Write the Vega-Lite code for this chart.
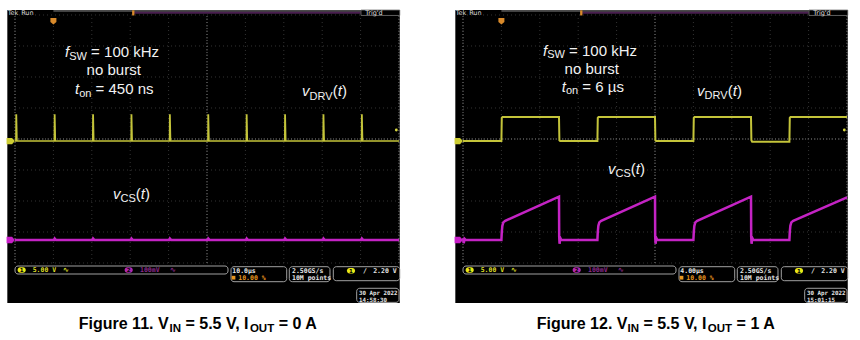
{
"$schema":"https://vega.github.io/schema/vega-lite/v6.json",
"padding":0,
"background":"#ffffff",
"spacing":0,
"bounds":"flush",
"config":{"view":{"stroke":null},"concat":{"spacing":0}},
"datasets":{
"screen":[{"x":-0.2,"x2":10.02,"y":8.161,"y2":-1.29}],
"gridV":[{"x":0,"y":0,"y2":8},{"x":1,"y":0,"y2":8},{"x":2,"y":0,"y2":8},{"x":3,"y":0,"y2":8},{"x":4,"y":0,"y2":8},{"x":5,"y":0,"y2":8},{"x":6,"y":0,"y2":8},{"x":7,"y":0,"y2":8},{"x":8,"y":0,"y2":8},{"x":9,"y":0,"y2":8},{"x":10,"y":0,"y2":8}],
"gridH":[{"y":0,"x":0,"x2":10},{"y":1,"x":0,"x2":10},{"y":2,"x":0,"x2":10},{"y":3,"x":0,"x2":10},{"y":4,"x":0,"x2":10},{"y":5,"x":0,"x2":10},{"y":6,"x":0,"x2":10},{"y":7,"x":0,"x2":10},{"y":8,"x":0,"x2":10}],
"gridC":[{"x":0,"y":0,"y2":8},{"x":5,"y":0,"y2":8},{"x":10,"y":0,"y2":8}],
"gridCH":[{"y":4,"x":0,"x2":10}],
"rec":[{"x":1.0,"x2":9.0,"y":8.13}],
"recP":[{"x":3.1,"x2":9.0,"y":8.07}],
"trigBox":[{"x":9.01,"x2":10.02,"y":8.161,"y2":7.985}],
"recMark":[{"x":3.05,"x2":3.11,"y":8.15,"y2":7.985}],
"hdr":[{"x":-0.19,"y":8.07,"t":"Tek"},{"x":0.16,"y":8.07,"t":"Run"},{"x":9.12,"y":8.07,"t":"Trig'd"}],
"trigT":[{"x":1.0,"y":7.81}],
"gnd":[{"x":-0.11,"y":3.935,"k":"ch1"},{"x":-0.11,"y":0.742,"k":"ch2"}],
"tlev":[{"x":9.93,"y":4.29}],
"p1y":[{"x":0,"y":3.935},
{"x":0.025,"y":3.935},{"x":0.03,"y":4.774},{"x":0.036,"y":4.774},{"x":0.05,"y":3.935},
{"x":1.025,"y":3.935},{"x":1.03,"y":4.774},{"x":1.036,"y":4.774},{"x":1.05,"y":3.935},
{"x":2.025,"y":3.935},{"x":2.03,"y":4.774},{"x":2.036,"y":4.774},{"x":2.05,"y":3.935},
{"x":3.025,"y":3.935},{"x":3.03,"y":4.774},{"x":3.036,"y":4.774},{"x":3.05,"y":3.935},
{"x":4.025,"y":3.935},{"x":4.03,"y":4.774},{"x":4.036,"y":4.774},{"x":4.05,"y":3.935},
{"x":5.025,"y":3.935},{"x":5.03,"y":4.774},{"x":5.036,"y":4.774},{"x":5.05,"y":3.935},
{"x":6.025,"y":3.935},{"x":6.03,"y":4.774},{"x":6.036,"y":4.774},{"x":6.05,"y":3.935},
{"x":7.025,"y":3.935},{"x":7.03,"y":4.774},{"x":7.036,"y":4.774},{"x":7.05,"y":3.935},
{"x":8.025,"y":3.935},{"x":8.03,"y":4.774},{"x":8.036,"y":4.774},{"x":8.05,"y":3.935},
{"x":9.025,"y":3.935},{"x":9.03,"y":4.774},{"x":9.036,"y":4.774},{"x":9.05,"y":3.935},
{"x":10,"y":3.935}],
"p1m":[{"x":0,"y":0.742},
{"x":1.02,"y":0.742},{"x":1.035,"y":0.79},{"x":1.07,"y":0.742},
{"x":2.02,"y":0.742},{"x":2.035,"y":0.79},{"x":2.07,"y":0.742},
{"x":3.02,"y":0.742},{"x":3.035,"y":0.79},{"x":3.07,"y":0.742},
{"x":4.02,"y":0.742},{"x":4.035,"y":0.79},{"x":4.07,"y":0.742},
{"x":5.02,"y":0.742},{"x":5.035,"y":0.79},{"x":5.07,"y":0.742},
{"x":6.02,"y":0.742},{"x":6.035,"y":0.79},{"x":6.07,"y":0.742},
{"x":7.02,"y":0.742},{"x":7.035,"y":0.79},{"x":7.07,"y":0.742},
{"x":8.02,"y":0.742},{"x":8.035,"y":0.79},{"x":8.07,"y":0.742},
{"x":9.02,"y":0.742},{"x":9.035,"y":0.79},{"x":9.07,"y":0.742},
{"x":10,"y":0.742}],
"p2y":[{"x":0,"y":3.935},{"x":1.0,"y":3.935},{"x":1.01,"y":4.68},{"x":1.03,"y":4.71},{"x":2.5,"y":4.71},{"x":2.51,"y":3.96},{"x":2.53,"y":3.935},
{"x":3.5,"y":3.935},{"x":3.51,"y":4.68},{"x":3.53,"y":4.71},{"x":5.0,"y":4.71},{"x":5.01,"y":3.96},{"x":5.03,"y":3.935},
{"x":6.0,"y":3.935},{"x":6.01,"y":4.68},{"x":6.03,"y":4.71},{"x":7.5,"y":4.71},{"x":7.51,"y":3.96},{"x":7.53,"y":3.91},
{"x":8.5,"y":3.91},{"x":8.51,"y":4.68},{"x":8.53,"y":4.71},{"x":10,"y":4.71}],
"p2m":[{"x":0,"y":0.8},{"x":0.02,"y":0.64},{"x":0.04,"y":0.78},{"x":0.07,"y":0.742},
{"x":1.0,"y":0.742},{"x":1.01,"y":1.0},{"x":1.025,"y":1.2},{"x":1.05,"y":1.31},{"x":1.1,"y":1.36},{"x":2.5,"y":2.14},
{"x":2.505,"y":0.85},{"x":2.515,"y":0.62},{"x":2.53,"y":0.82},{"x":2.56,"y":0.742},
{"x":3.5,"y":0.742},{"x":3.51,"y":1.0},{"x":3.525,"y":1.2},{"x":3.55,"y":1.31},{"x":3.6,"y":1.36},{"x":5.0,"y":2.14},
{"x":5.005,"y":0.85},{"x":5.015,"y":0.62},{"x":5.03,"y":0.82},{"x":5.06,"y":0.742},
{"x":6.0,"y":0.742},{"x":6.01,"y":1.0},{"x":6.025,"y":1.2},{"x":6.05,"y":1.31},{"x":6.1,"y":1.36},{"x":7.5,"y":2.14},
{"x":7.505,"y":0.85},{"x":7.515,"y":0.62},{"x":7.53,"y":0.82},{"x":7.56,"y":0.742},
{"x":8.5,"y":0.742},{"x":8.51,"y":1.0},{"x":8.525,"y":1.2},{"x":8.55,"y":1.31},{"x":8.6,"y":1.36},{"x":10.0,"y":2.12}],
"p1it":[{"x":1.302,"y":6.635,"t":"f"},{"x":1.5625,"y":5.452,"t":"t"},{"x":7.474,"y":5.371,"t":"v"},{"x":8.404,"y":5.371,"t":"t"},{"x":2.552,"y":2.065,"t":"v"},{"x":3.273,"y":2.065,"t":"t"}],
"p1tx":[{"x":1.982,"y":6.635,"t":"= 100 kHz"},{"x":2.099,"y":5.452,"t":"= 450 ns"},{"x":8.273,"y":5.371,"t":"("},{"x":8.513,"y":5.371,"t":")"},{"x":3.143,"y":2.065,"t":"("},{"x":3.383,"y":2.065,"t":")"}],
"p1ce":[{"x":2.57,"y":6.065,"t":"no burst"}],
"p1sb":[{"x":1.411,"y":6.555,"t":"SW"},{"x":1.672,"y":5.37,"t":"on"},{"x":7.669,"y":5.274,"t":"DRV"},{"x":2.747,"y":1.968,"t":"CS"}],
"p2it":[{"x":2.083,"y":6.677,"t":"f"},{"x":2.57,"y":5.527,"t":"t"},{"x":6.094,"y":5.403,"t":"v"},{"x":7.023,"y":5.403,"t":"t"},{"x":3.776,"y":2.871,"t":"v"},{"x":4.497,"y":2.871,"t":"t"}],
"p2tx":[{"x":2.763,"y":6.677,"t":"= 100 kHz"},{"x":3.107,"y":5.527,"t":"= 6 µs"},{"x":6.893,"y":5.403,"t":"("},{"x":7.133,"y":5.403,"t":")"},{"x":4.367,"y":2.871,"t":"("},{"x":4.607,"y":2.871,"t":")"}],
"p2ce":[{"x":3.352,"y":6.097,"t":"no burst"}],
"p2sb":[{"x":2.193,"y":6.597,"t":"SW"},{"x":2.68,"y":5.45,"t":"on"},{"x":6.289,"y":5.306,"t":"DRV"},{"x":3.971,"y":2.774,"t":"CS"}],
"boxes":[{"x":0,"x2":5.547,"y":-0.097,"y2":-0.355},{"x":5.625,"x2":7.076,"y":-0.119,"y2":-0.603},{"x":7.143,"x2":8.203,"y":-0.119,"y2":-0.603},{"x":8.289,"x2":10.02,"y":-0.119,"y2":-0.571},{"x":8.898,"x2":10.0,"y":-0.816,"y2":-1.27}],
"ell":[{"x":0.174,"y":-0.226,"k":"ch1","t":"1"},{"x":2.961,"y":-0.226,"k":"ch2","t":"2"},{"x":8.75,"y":-0.248,"k":"ch1","t":"1"}],
"stat":[{"x":0.461,"y":-0.226,"t":"5.00 V","k":"ch1"},{"x":1.25,"y":-0.226,"t":"∿","k":"ch1"},{"x":3.255,"y":-0.226,"t":"100mV","k":"ch2"},{"x":4.036,"y":-0.226,"t":"∿","k":"ch2"},{"x":5.815,"y":-0.474,"t":"10.00 %","k":"trig"},{"x":7.214,"y":-0.248,"t":"2.50GS/s","k":"sys"},{"x":7.214,"y":-0.474,"t":"10M points","k":"sys"},{"x":9.063,"y":-0.248,"t":"/","k":"sys"}],
"date":[{"x":8.958,"y":-0.958,"t":"30 Apr 2022"}],
"p1stat":[{"x":5.659,"y":-0.248,"t":"10.0µs"}],
"p2stat":[{"x":5.659,"y":-0.248,"t":"4.00µs"}],
"p1time":[{"x":8.958,"y":-1.194,"t":"14:58:30"}],
"p2time":[{"x":8.958,"y":-1.194,"t":"15:01:15"}],
"trigv":[{"x":9.94,"y":-0.248,"t":"2.20 V"}],
"oic":[{"x":5.69,"y":-0.474}],
"p1cm":[{"x":1.661,"y":-2.139,"t":"Figure 11. V"},{"x":4.439,"y":-2.139,"t":"= 5.5 V, I"},{"x":6.866,"y":-2.139,"t":"= 0 A"}],
"p1cs":[{"x":4.023,"y":-2.235,"t":"IN"},{"x":6.117,"y":-2.235,"t":"OUT"}],
"p2cm":[{"x":1.921,"y":-2.139,"t":"Figure 12. V"},{"x":4.698,"y":-2.139,"t":"= 5.5 V, I"},{"x":7.125,"y":-2.139,"t":"= 1 A"}],
"p2cs":[{"x":4.283,"y":-2.235,"t":"IN"},{"x":6.376,"y":-2.235,"t":"OUT"}]
},
"hconcat":[
{"width":430,"height":340,
"resolve":{"scale":{"color":"independent"}},
"encoding":{"x":{"field":"x","type":"quantitative","scale":{"domain":[-0.390625,10.807292],"nice":false,"zero":false},"axis":null},
"y":{"field":"y","type":"quantitative","scale":{"domain":[-2.48387,8.48387],"nice":false,"zero":false},"axis":null}},
"layer":[
{"data":{"name":"screen"},"mark":{"type":"rect","fill":"#000000"},"encoding":{"x2":{"field":"x2"},"y2":{"field":"y2"}}},
{"data":{"name":"gridV"},"mark":{"type":"rule","stroke":"#333333","strokeWidth":1,"strokeDash":[1,3]},"encoding":{"y2":{"field":"y2"}}},
{"data":{"name":"gridH"},"mark":{"type":"rule","stroke":"#333333","strokeWidth":1,"strokeDash":[1,3]},"encoding":{"x2":{"field":"x2"}}},
{"data":{"name":"gridC"},"mark":{"type":"rule","stroke":"#777777","strokeWidth":1,"strokeDash":[1,2]},"encoding":{"y2":{"field":"y2"}}},
{"data":{"name":"gridCH"},"mark":{"type":"rule","stroke":"#777777","strokeWidth":1,"strokeDash":[1,2]},"encoding":{"x2":{"field":"x2"}}},
{"data":{"name":"rec"},"mark":{"type":"rule","stroke":"#8c8c8c","strokeWidth":1},"encoding":{"x2":{"field":"x2"}}},
{"data":{"name":"recP"},"mark":{"type":"rule","stroke":"#4a2050","strokeWidth":2},"encoding":{"x2":{"field":"x2"}}},
{"data":{"name":"trigBox"},"mark":{"type":"rect","fill":"#000000","stroke":"#777777","strokeWidth":0.8},"encoding":{"x2":{"field":"x2"},"y2":{"field":"y2"}}},
{"data":{"name":"recMark"},"mark":{"type":"rect","fill":"#d98a2b"},"encoding":{"x2":{"field":"x2"},"y2":{"field":"y2"}}},
{"data":{"name":"hdr"},"mark":{"type":"text","align":"left","baseline":"middle","font":"DejaVu Sans","fontSize":6.5,"fill":"#dddddd"},"encoding":{"text":{"field":"t"}}},
{"data":{"name":"trigT"},"mark":{"type":"point","shape":"M-1,-1H1V0.4L0,1.2L-1,0.4Z","filled":true,"color":"#d98a2b","size":36,"opacity":1},"encoding":{}},
{"data":{"name":"gnd"},"mark":{"type":"point","shape":"M-1,-0.75H0.3L1,0L0.3,0.75H-1Z","filled":true,"size":70,"opacity":1},"encoding":{"color":{"field":"k","type":"nominal","scale":{"domain":["ch1","ch2"],"range":["#cccc33","#c81ec8"]},"legend":null}}},
{"data":{"name":"p1y"},"mark":{"type":"line","color":"#c4c43a","strokeWidth":1.6},"encoding":{}},
{"data":{"name":"p1m"},"mark":{"type":"line","color":"#c423c4","strokeWidth":2.5},"encoding":{}},
{"data":{"name":"tlev"},"mark":{"type":"point","filled":true,"color":"#d8d840","size":8,"opacity":1},"encoding":{}},
{"data":{"name":"p1it"},"mark":{"type":"text","align":"left","baseline":"alphabetic","font":"Liberation Sans","fontSize":15,"fontStyle":"italic","fill":"#f2f2f2"},"encoding":{"text":{"field":"t"}}},
{"data":{"name":"p1tx"},"mark":{"type":"text","align":"left","baseline":"alphabetic","font":"Liberation Sans","fontSize":15,"fill":"#f2f2f2"},"encoding":{"text":{"field":"t"}}},
{"data":{"name":"p1ce"},"mark":{"type":"text","align":"center","baseline":"alphabetic","font":"Liberation Sans","fontSize":15,"fill":"#f2f2f2"},"encoding":{"text":{"field":"t"}}},
{"data":{"name":"p1sb"},"mark":{"type":"text","align":"left","baseline":"alphabetic","font":"Liberation Sans","fontSize":11,"fill":"#f2f2f2"},"encoding":{"text":{"field":"t"}}},
{"data":{"name":"boxes"},"mark":{"type":"rect","fill":"#000000","stroke":"#a0a0a0","strokeWidth":1,"cornerRadius":3},"encoding":{"x2":{"field":"x2"},"y2":{"field":"y2"}}},
{"data":{"name":"ell"},"mark":{"type":"point","shape":"M-0.5,-1H0.5A1,1,0,0,1,0.5,1H-0.5A1,1,0,0,1,-0.5,-1Z","filled":true,"size":30,"opacity":1},"encoding":{"color":{"field":"k","type":"nominal","scale":{"domain":["ch1","ch2"],"range":["#e8e818","#b028b0"]},"legend":null}}},
{"data":{"name":"ell"},"mark":{"type":"text","align":"center","baseline":"middle","font":"DejaVu Sans","fontWeight":"bold","fontSize":5.5,"fill":"#000000"},"encoding":{"text":{"field":"t"}}},
{"data":{"name":"stat"},"mark":{"type":"text","align":"left","baseline":"middle","font":"DejaVu Sans Mono","fontWeight":"bold","fontSize":6.5},"encoding":{"text":{"field":"t"},"color":{"field":"k","type":"nominal","scale":{"domain":["ch1","ch2","trig","sys"],"range":["#dede28","#8a2a8a","#e8961e","#e6e6e6"]},"legend":null}}},
{"data":{"name":"p1stat"},"mark":{"type":"text","align":"left","baseline":"middle","font":"DejaVu Sans Mono","fontWeight":"bold","fontSize":6.5,"fill":"#e6e6e6"},"encoding":{"text":{"field":"t"}}},
{"data":{"name":"date"},"mark":{"type":"text","align":"left","baseline":"middle","font":"DejaVu Sans Mono","fontWeight":"bold","fontSize":5.8,"fill":"#e6e6e6"},"encoding":{"text":{"field":"t"}}},
{"data":{"name":"p1time"},"mark":{"type":"text","align":"left","baseline":"middle","font":"DejaVu Sans Mono","fontWeight":"bold","fontSize":5.8,"fill":"#e6e6e6"},"encoding":{"text":{"field":"t"}}},
{"data":{"name":"trigv"},"mark":{"type":"text","align":"right","baseline":"middle","font":"DejaVu Sans Mono","fontWeight":"bold","fontSize":6.5,"fill":"#e6e6e6"},"encoding":{"text":{"field":"t"}}},
{"data":{"name":"oic"},"mark":{"type":"square","color":"#e8961e","size":14,"opacity":1},"encoding":{}},
{"data":{"name":"p1cm"},"mark":{"type":"text","align":"left","baseline":"alphabetic","font":"Liberation Sans","fontWeight":"bold","fontSize":16,"fill":"#000000"},"encoding":{"text":{"field":"t"}}},
{"data":{"name":"p1cs"},"mark":{"type":"text","align":"left","baseline":"alphabetic","font":"Liberation Sans","fontWeight":"bold","fontSize":11.5,"fill":"#000000"},"encoding":{"text":{"field":"t"}}}
]},
{"width":430,"height":340,
"resolve":{"scale":{"color":"independent"}},
"encoding":{"x":{"field":"x","type":"quantitative","scale":{"domain":[-0.859375,10.338542],"nice":false,"zero":false},"axis":null},
"y":{"field":"y","type":"quantitative","scale":{"domain":[-2.48387,8.48387],"nice":false,"zero":false},"axis":null}},
"layer":[
{"data":{"name":"screen"},"mark":{"type":"rect","fill":"#000000"},"encoding":{"x2":{"field":"x2"},"y2":{"field":"y2"}}},
{"data":{"name":"gridV"},"mark":{"type":"rule","stroke":"#333333","strokeWidth":1,"strokeDash":[1,3]},"encoding":{"y2":{"field":"y2"}}},
{"data":{"name":"gridH"},"mark":{"type":"rule","stroke":"#333333","strokeWidth":1,"strokeDash":[1,3]},"encoding":{"x2":{"field":"x2"}}},
{"data":{"name":"gridC"},"mark":{"type":"rule","stroke":"#777777","strokeWidth":1,"strokeDash":[1,2]},"encoding":{"y2":{"field":"y2"}}},
{"data":{"name":"gridCH"},"mark":{"type":"rule","stroke":"#777777","strokeWidth":1,"strokeDash":[1,2]},"encoding":{"x2":{"field":"x2"}}},
{"data":{"name":"rec"},"mark":{"type":"rule","stroke":"#8c8c8c","strokeWidth":1},"encoding":{"x2":{"field":"x2"}}},
{"data":{"name":"recP"},"mark":{"type":"rule","stroke":"#4a2050","strokeWidth":2},"encoding":{"x2":{"field":"x2"}}},
{"data":{"name":"trigBox"},"mark":{"type":"rect","fill":"#000000","stroke":"#777777","strokeWidth":0.8},"encoding":{"x2":{"field":"x2"},"y2":{"field":"y2"}}},
{"data":{"name":"recMark"},"mark":{"type":"rect","fill":"#d98a2b"},"encoding":{"x2":{"field":"x2"},"y2":{"field":"y2"}}},
{"data":{"name":"hdr"},"mark":{"type":"text","align":"left","baseline":"middle","font":"DejaVu Sans","fontSize":6.5,"fill":"#dddddd"},"encoding":{"text":{"field":"t"}}},
{"data":{"name":"trigT"},"mark":{"type":"point","shape":"M-1,-1H1V0.4L0,1.2L-1,0.4Z","filled":true,"color":"#d98a2b","size":36,"opacity":1},"encoding":{}},
{"data":{"name":"gnd"},"mark":{"type":"point","shape":"M-1,-0.75H0.3L1,0L0.3,0.75H-1Z","filled":true,"size":70,"opacity":1},"encoding":{"color":{"field":"k","type":"nominal","scale":{"domain":["ch1","ch2"],"range":["#cccc33","#c81ec8"]},"legend":null}}},
{"data":{"name":"p2y"},"mark":{"type":"line","color":"#c4c43a","strokeWidth":2},"encoding":{}},
{"data":{"name":"p2m"},"mark":{"type":"line","color":"#c423c4","strokeWidth":2.5},"encoding":{}},
{"data":{"name":"tlev"},"mark":{"type":"point","filled":true,"color":"#d8d840","size":8,"opacity":1},"encoding":{}},
{"data":{"name":"p2it"},"mark":{"type":"text","align":"left","baseline":"alphabetic","font":"Liberation Sans","fontSize":15,"fontStyle":"italic","fill":"#f2f2f2"},"encoding":{"text":{"field":"t"}}},
{"data":{"name":"p2tx"},"mark":{"type":"text","align":"left","baseline":"alphabetic","font":"Liberation Sans","fontSize":15,"fill":"#f2f2f2"},"encoding":{"text":{"field":"t"}}},
{"data":{"name":"p2ce"},"mark":{"type":"text","align":"center","baseline":"alphabetic","font":"Liberation Sans","fontSize":15,"fill":"#f2f2f2"},"encoding":{"text":{"field":"t"}}},
{"data":{"name":"p2sb"},"mark":{"type":"text","align":"left","baseline":"alphabetic","font":"Liberation Sans","fontSize":11,"fill":"#f2f2f2"},"encoding":{"text":{"field":"t"}}},
{"data":{"name":"boxes"},"mark":{"type":"rect","fill":"#000000","stroke":"#a0a0a0","strokeWidth":1,"cornerRadius":3},"encoding":{"x2":{"field":"x2"},"y2":{"field":"y2"}}},
{"data":{"name":"ell"},"mark":{"type":"point","shape":"M-0.5,-1H0.5A1,1,0,0,1,0.5,1H-0.5A1,1,0,0,1,-0.5,-1Z","filled":true,"size":30,"opacity":1},"encoding":{"color":{"field":"k","type":"nominal","scale":{"domain":["ch1","ch2"],"range":["#e8e818","#b028b0"]},"legend":null}}},
{"data":{"name":"ell"},"mark":{"type":"text","align":"center","baseline":"middle","font":"DejaVu Sans","fontWeight":"bold","fontSize":5.5,"fill":"#000000"},"encoding":{"text":{"field":"t"}}},
{"data":{"name":"stat"},"mark":{"type":"text","align":"left","baseline":"middle","font":"DejaVu Sans Mono","fontWeight":"bold","fontSize":6.5},"encoding":{"text":{"field":"t"},"color":{"field":"k","type":"nominal","scale":{"domain":["ch1","ch2","trig","sys"],"range":["#dede28","#8a2a8a","#e8961e","#e6e6e6"]},"legend":null}}},
{"data":{"name":"p2stat"},"mark":{"type":"text","align":"left","baseline":"middle","font":"DejaVu Sans Mono","fontWeight":"bold","fontSize":6.5,"fill":"#e6e6e6"},"encoding":{"text":{"field":"t"}}},
{"data":{"name":"date"},"mark":{"type":"text","align":"left","baseline":"middle","font":"DejaVu Sans Mono","fontWeight":"bold","fontSize":5.8,"fill":"#e6e6e6"},"encoding":{"text":{"field":"t"}}},
{"data":{"name":"p2time"},"mark":{"type":"text","align":"left","baseline":"middle","font":"DejaVu Sans Mono","fontWeight":"bold","fontSize":5.8,"fill":"#e6e6e6"},"encoding":{"text":{"field":"t"}}},
{"data":{"name":"trigv"},"mark":{"type":"text","align":"right","baseline":"middle","font":"DejaVu Sans Mono","fontWeight":"bold","fontSize":6.5,"fill":"#e6e6e6"},"encoding":{"text":{"field":"t"}}},
{"data":{"name":"oic"},"mark":{"type":"square","color":"#e8961e","size":14,"opacity":1},"encoding":{}},
{"data":{"name":"p2cm"},"mark":{"type":"text","align":"left","baseline":"alphabetic","font":"Liberation Sans","fontWeight":"bold","fontSize":16,"fill":"#000000"},"encoding":{"text":{"field":"t"}}},
{"data":{"name":"p2cs"},"mark":{"type":"text","align":"left","baseline":"alphabetic","font":"Liberation Sans","fontWeight":"bold","fontSize":11.5,"fill":"#000000"},"encoding":{"text":{"field":"t"}}}
]}
]
}
